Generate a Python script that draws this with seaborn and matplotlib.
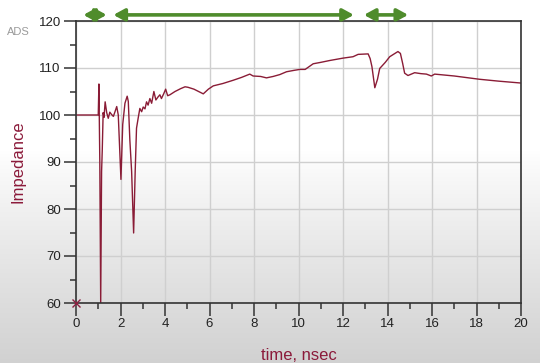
import numpy as np
import pandas as pd
import matplotlib
matplotlib.use("Agg")
import matplotlib.pyplot as plt
import seaborn as sns
from matplotlib.ticker import MultipleLocator

# ---- data ----
time_ns = [0.0, 1.0, 1.03, 1.07, 1.11, 1.15, 1.18, 1.22, 1.26, 1.31, 1.38, 1.45, 1.52,
           1.60, 1.68, 1.76, 1.83, 1.90, 2.02, 2.10, 2.20, 2.30, 2.35, 2.42, 2.50, 2.59,
           2.66, 2.72, 2.80, 2.87, 2.95, 3.02, 3.10, 3.17, 3.24, 3.32, 3.40, 3.50, 3.59,
           3.68, 3.77, 3.84, 3.94, 4.03, 4.12, 4.22, 4.45, 4.70, 4.90, 5.03, 5.30,
           5.72, 5.95, 6.17, 6.60, 7.07, 7.44, 7.81, 7.96, 8.30, 8.56, 8.86, 9.16,
           9.46, 9.80, 10.06, 10.30, 10.66, 11.0, 11.41, 12.0, 12.45, 12.68, 13.13,
           13.22, 13.30, 13.43, 13.55, 13.65, 13.90, 14.10, 14.30, 14.47, 14.58, 14.68,
           14.77, 14.92, 15.22, 15.50, 15.75, 15.97, 16.12, 17.0, 18.14, 19.0, 20.0]
impedance = [100.0, 100.0, 106.6, 90.0, 60.0, 88.0, 92.5, 100.5, 99.5, 102.8, 100.5, 99.3,
             100.6, 100.1, 99.7, 100.8, 101.8, 100.0, 86.3, 98.0, 102.5, 104.0, 102.9, 94.7,
             88.0, 74.9, 88.0, 97.2, 99.5, 101.4, 100.7, 101.7, 101.3, 102.8, 102.1,
             103.5, 102.5, 105.0, 103.2, 103.8, 104.3, 103.5, 104.5, 105.5, 104.1, 104.3,
             105.0, 105.6, 106.0, 105.9, 105.5, 104.5, 105.5, 106.2, 106.7, 107.4, 108.0,
             108.7, 108.3, 108.2, 107.9, 108.2, 108.6, 109.2, 109.5, 109.7, 109.7, 110.9,
             111.2, 111.6, 112.1, 112.4, 112.9, 113.0, 112.0, 110.3, 105.8, 107.6, 109.9,
             111.2, 112.4, 113.0, 113.5, 113.1, 111.0, 108.9, 108.4, 109.0, 108.8, 108.7,
             108.3, 108.7, 108.3, 107.6, 107.2, 106.8]
arrow_starts = [0.33, 1.68, 12.94]
arrow_ends = [1.38, 12.49, 14.93]
x_ticks = [0, 2, 4, 6, 8, 10, 12, 14, 16, 18, 20]
y_ticks = [60, 70, 80, 90, 100, 110, 120]

df = pd.DataFrame({"time": time_ns, "imp": impedance})

sns.set_theme(style="white")
plt.rcParams["font.family"] = ["Liberation Sans", "DejaVu Sans"]

fig = plt.figure(figsize=(5.4, 3.63), dpi=100)

# background gradient
bg = fig.add_axes([0, 0, 1, 1], zorder=-10)
bg.axis("off")
h = 363
yy = np.arange(h)
vals = np.where(yy < 150, 1.0, 1.0 - 0.18 * ((yy - 150) / (h - 150)) ** 0.9)
grad = np.stack([vals] * 3, axis=-1)[:, None, :].repeat(10, axis=1)
bg.imshow(grad, aspect="auto", extent=[0, 1, 0, 1])

ax = fig.add_axes([76 / 540, 1 - 303 / 363, 445 / 540, 282 / 363])
ax.set_facecolor("none")

line_color = "#8a1c36"
sns.lineplot(data=df, x="time", y="imp", ax=ax, color=line_color, lw=1.0,
             estimator=None, sort=False)

ax.plot([0], [60], marker="x", color="#8b2040", ms=6, mew=1.0, clip_on=False, zorder=5)

ax.set_xlim(0, 20)
ax.set_ylim(60, 120)
ax.set_xticks(x_ticks)
ax.set_yticks(y_ticks)
ax.xaxis.set_minor_locator(MultipleLocator(1))
ax.yaxis.set_minor_locator(MultipleLocator(5))
ax.grid(True, which="major", color="#cfcfcf", lw=1.0)
ax.tick_params(axis="both", which="major", direction="out", length=9, width=1.1,
               color="#333333", labelsize=9.5, labelcolor="#222222", pad=2,
               left=True, bottom=True)
ax.tick_params(axis="both", which="minor", direction="out", length=4.5, width=1.1,
               color="#333333", left=True, bottom=True)
for s in ax.spines.values():
    s.set_color("#333333")
    s.set_linewidth(1.2)

ax.set_xlabel("time, nsec", color="#8b1a3a", fontsize=12, labelpad=13)
ax.set_ylabel("Impedance", color="#8b1a3a", fontsize=12, labelpad=9)

green = "#4f8c2c"
for a, b in zip(arrow_starts, arrow_ends):
    ax.annotate("", xy=(b, 121.3), xytext=(a, 121.3), annotation_clip=False,
                arrowprops=dict(arrowstyle="<|-|>,head_length=0.55,head_width=0.3",
                                color=green, lw=2.6, shrinkA=0, shrinkB=0))

fig.text(7 / 540, 1 - 32 / 363, "ADS", color="#9a9a9a", fontsize=8, va="center", ha="left")

fig.savefig("out.png", dpi=100)
